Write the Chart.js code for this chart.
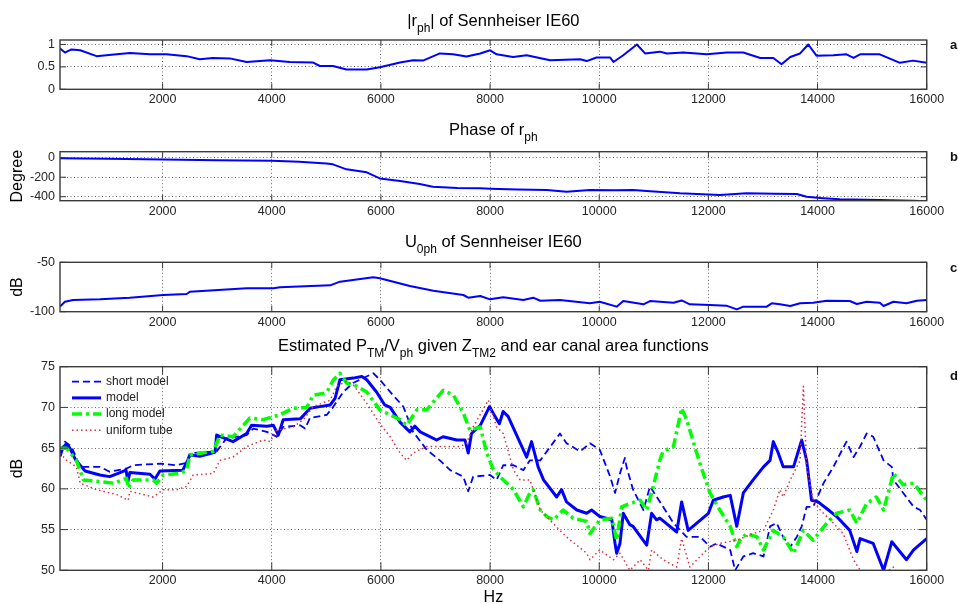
<!DOCTYPE html>
<html><head><meta charset="utf-8">
<script src="https://cdn.jsdelivr.net/npm/chart.js@4.4.1/dist/chart.umd.min.js"></script>
<style>
body{margin:0;background:#fff;width:958px;height:604px;overflow:hidden;position:relative}
canvas{position:absolute;left:0}
</style></head><body>
<canvas id="ca" width="958" height="112" style="top:0px"></canvas>
<canvas id="cb" width="958" height="106" style="top:112px"></canvas>
<canvas id="cc" width="958" height="108" style="top:218px"></canvas>
<canvas id="cd" width="958" height="278" style="top:326px"></canvas>
<script>
// ---------------- DATA ----------------
const xTickValues = [2000,4000,6000,8000,10000,12000,14000,16000];
const yTicksA = [0,0.5,1];
const yTicksB = [-400,-200,0];
const yTicksC = [-100,-50];
const yTicksD = [50,55,60,65,70,75];

// (a) |r_ph|
const freqA = [120,210,330,490,790,970,1400,1770,2070,2440,2680,2920,3230,3540,3970,4330,4750,4880,5120,5370,5740,5980,6350,6590,6770,7080,7320,7570,7820,8000,8120,8420,8670,9100,9650,9770,9950,10200,10260,10440,10690,10840,11110,11240,11540,11970,12340,12640,12950,13190,13340,13500,13680,13830,13980,14290,14530,14660,14780,15140,15510,15750,16000];
const magA = [0.91,0.82,0.89,0.87,0.74,0.76,0.81,0.78,0.78,0.74,0.67,0.70,0.69,0.61,0.65,0.61,0.60,0.52,0.52,0.44,0.44,0.49,0.60,0.65,0.64,0.80,0.78,0.73,0.80,0.87,0.78,0.72,0.76,0.65,0.67,0.63,0.71,0.71,0.61,0.76,1.00,0.80,0.84,0.80,0.82,0.78,0.82,0.82,0.70,0.70,0.56,0.72,0.80,1.00,0.75,0.76,0.78,0.70,0.78,0.78,0.59,0.64,0.59];

// (b) phase of r_ph (degree)
const freqB = [120,1000,2000,3000,4000,4500,5000,5120,5370,5740,5980,6350,6710,6950,7400,7820,8000,8500,9040,9400,9830,10300,10620,10870,11480,12210,12700,13200,13620,13800,14100,14410,15140,15750,16000];
const phaseB = [-6,-10,-17,-25,-31,-42,-58,-68,-119,-150,-212,-239,-270,-297,-310,-314,-318,-325,-331,-348,-331,-333,-331,-341,-365,-382,-365,-370,-372,-400,-415,-427,-434,-441,-446];

// (c) U0ph (dB)
const freqC = [120,210,360,850,1400,2010,2440,2500,3540,4030,4150,5070,5250,5860,5980,6530,6960,7510,7600,7820,8000,8240,8610,8790,8920,9280,9830,10010,10320,10440,10810,10930,11360,11510,11660,12030,12330,12520,12640,13070,13160,13310,13500,13680,13920,14170,14590,14720,14900,15140,15210,15390,15630,15820,16000];
const u0C = [-94.9,-89.9,-88.2,-87.5,-85.8,-83.1,-82.1,-79.8,-76.3,-76.3,-75.3,-73.3,-69.6,-65.2,-66.2,-74,-78.7,-83.1,-85.8,-84.1,-87.5,-85.4,-88.2,-85.8,-88.9,-88.2,-91.5,-89.9,-94.9,-89.2,-92.5,-89.2,-90.9,-88.6,-92.5,-93.2,-93.9,-97.6,-94.9,-94.9,-91.5,-92.5,-94.2,-91.5,-90.9,-88.9,-89.2,-92.2,-89.9,-90.9,-94.2,-89.9,-91.5,-88.9,-88.2];

// (d) estimated P_TM / V_ph (dB)
const seriesNames = ['short model','model','long model','uniform tube'];
const freqShort = [120,210,330,490,850,1030,1340,1460,1950,2260,2440,2530,2990,3170,3540,3660,3910,4090,4210,4520,4610,4700,5010,5130,5310,5490,5860,5980,6170,6410,6590,6840,7080,7270,7510,7600,7690,8000,8120,8240,8430,8610,8730,8920,9280,9400,9650,9830,10010,10200,10290,10380,10470,10500,10620,10810,10930,11170,11360,11600,11850,12030,12150,12400,12490,12640,12820,13010,13130,13250,13370,13500,13620,13710,13800,13920,14110,14290,14530,14660,14780,14900,15020,15210,15360,15390,15570,15760,15880,16000];
const shortModel = [64.5,65.8,65.2,62.7,62.7,62.1,62.5,62.9,63.1,62.9,63.2,64.4,64.6,66.2,66.6,67.4,67.0,66.4,67.6,67.8,67.4,68.7,69.1,70.1,71.9,73.0,74.2,73.4,71.9,70.1,67.0,64.8,63.5,62.3,61.5,59.7,61.5,61.7,61.1,62.9,62.9,62.3,63.5,63.5,66.8,65.6,64.6,65.6,64.8,61.5,59.5,61.9,63.8,62.7,59.9,57.4,60.3,57.8,55.8,54.1,54.1,52.9,53.3,52.5,50.0,51.7,52.1,51.7,55.4,55.8,54.1,52.9,54.1,55.4,57.8,57.8,60.7,62.7,65.8,63.9,65.2,66.8,66.4,63.5,62.7,61.1,59.5,57.8,57.4,56.2];
const freqModel = [120,170,230,300,410,580,850,1030,1220,1330,1365,1400,1770,1860,1950,2370,2460,2500,2680,2960,2990,3290,3540,3630,3910,4030,4120,4210,4520,4580,4700,4880,5070,5160,5250,5490,5650,5740,5920,6070,6170,6350,6530,6620,6720,6840,7020,7140,7390,7540,7600,7660,7820,7990,8090,8170,8240,8330,8670,8760,8850,8880,8980,9220,9310,9400,9590,9770,9860,10010,10230,10290,10320,10380,10440,10560,10620,10870,10960,11050,11110,11420,11510,11630,12000,12090,12270,12400,12520,12640,12820,13010,13130,13190,13280,13370,13560,13710,13800,13890,14010,14200,14350,14590,14720,14780,15020,15210,15360,15630,15760,16000];
const model = [64.0,65.0,65.5,65.0,63.5,62.2,61.7,61.5,62.0,62.3,60.9,62.0,61.8,61.2,62.2,62.3,63.5,64.2,64.0,64.5,66.6,65.8,66.8,67.8,67.7,67.8,66.6,68.5,68.6,69.0,69.9,70.1,70.3,71.1,73.4,73.6,73.8,73.4,71.9,70.3,70.0,68.2,67.0,67.7,67.0,66.6,66.0,66.4,66.0,66.0,64.4,66.8,67.8,70.1,68.9,68.0,69.5,68.9,63.9,65.8,63.5,62.7,61.1,59.0,59.9,58.4,57.4,57.0,57.4,56.6,56.2,53.3,52.1,53.3,57.0,55.6,55.4,53.1,57.0,56.2,56.4,54.7,58.4,54.9,57.0,58.6,59.0,59.2,55.4,59.5,61.1,62.7,63.5,65.8,64.4,62.7,62.7,66.0,63.5,58.6,58.4,57.4,56.6,54.9,52.3,53.9,53.3,50.0,53.5,51.3,52.5,53.9];
const freqLong = [120,240,420,550,850,1100,1340,1370,1460,1830,1890,2010,2320,2440,2500,2930,3050,3290,3600,3840,4150,4390,4640,4760,4940,5010,5130,5250,5370,5560,5740,5980,6350,6470,6660,6840,7140,7330,7510,7630,7820,7940,8050,8180,8430,8610,8730,8790,8920,9040,9160,9340,9520,9770,9830,10010,10230,10320,10410,10560,10750,10870,10990,11110,11170,11360,11510,11600,11850,12030,12210,12400,12520,12580,12700,12890,13010,13190,13370,13560,13740,13920,14170,14350,14590,14720,14900,15080,15210,15390,15570,15760,16000];
const longModel = [65.0,65.0,63.5,61.1,60.9,60.7,61.3,60.1,61.1,61.1,60.7,61.7,61.9,62.3,64.2,64.6,66.6,66.4,68.7,68.5,69.1,69.9,70.0,71.5,71.7,71.9,73.4,74.2,73.0,72.6,71.9,69.7,68.5,67.8,69.7,69.7,72.1,71.5,69.3,67.2,67.6,64.4,62.5,61.5,59.9,57.8,59.5,59.9,57.4,56.6,56.2,57.4,56.4,56.0,54.5,56.2,56.4,53.7,57.8,58.2,58.6,57.4,60.3,63.5,64.6,65.2,69.9,68.5,63.0,59.5,57.4,55.4,52.9,53.7,54.5,54.1,52.5,54.9,54.1,52.1,54.9,53.7,55.8,57.0,57.4,55.8,58.2,59.0,57.4,61.9,60.5,60.7,58.6];
const freqTube = [120,240,420,490,790,1160,1370,1400,1830,2010,2260,2440,2560,2930,3050,3290,3540,3840,3970,4090,4390,4580,4760,5070,5190,5370,5490,5740,5980,6170,6350,6470,6590,6840,7200,7450,7570,7690,7970,8120,8240,8430,8550,8730,8920,9280,9400,9770,9830,10010,10260,10380,10560,10750,10900,10960,11170,11420,11510,11660,11910,12030,12210,12520,12820,13010,13190,13310,13370,13500,13620,13680,13740,13800,13920,14050,14290,14470,14660,14780,15000,15390,15600,16000];
const uniformTube = [64.4,63.5,62.7,60.7,59.9,59.3,58.6,59.7,59.0,59.9,59.9,60.3,61.7,61.9,63.5,63.9,65.2,66.0,65.8,67.2,67.6,68.5,70.1,70.9,72.6,73.2,72.8,70.5,68.0,66.4,64.4,63.5,64.4,65.2,65.2,65.2,65.6,67.6,70.9,67.6,66.8,62.3,61.1,61.1,57.4,54.9,54.1,52.1,51.3,52.5,51.3,52.1,50.0,51.3,50.0,52.5,51.3,50.4,53.9,50.4,52.1,52.9,53.3,53.7,54.5,54.9,57.4,59.9,59.0,61.1,62.7,63.5,72.6,62.7,58.6,57.4,55.8,54.5,51.3,50.0,48.5,50.4,48.0,47.0];

// text
const titleA = [{t:'|r'},{t:'ph',sub:true},{t:'| of Sennheiser IE60'}];
const titleB = [{t:'Phase of r'},{t:'ph',sub:true}];
const titleC = [{t:'U'},{t:'0ph',sub:true},{t:' of Sennheiser IE60'}];
const titleD = [{t:'Estimated P'},{t:'TM',sub:true},{t:'/V'},{t:'ph',sub:true},{t:' given Z'},{t:'TM2',sub:true},{t:' and ear canal area functions'}];

// ---------------- RENDERING ----------------
const FONT = '"Liberation Sans", Arial, Helvetica, sans-serif';
Chart.defaults.font.family = FONT;
Chart.defaults.color = '#262626';
const pts = (xs, ys) => xs.map((x, i) => ({x, y: ys[i]}));

const AREA_L = 60, AREA_R = 926.7, W = 958;

const matlabAxes = {
  id: 'matlabAxes',
  afterDatasetsDraw(chart) {
    const cfg = chart.$cfg;
    const {ctx, chartArea: a} = chart;
    const xs = chart.scales.x, ys = chart.scales.y;
    ctx.save();
    ctx.setLineDash([]);
    ctx.strokeStyle = '#3a3a3a';
    ctx.lineWidth = 1;
    ctx.beginPath();
    xs.ticks.forEach(t => {
      const p = xs.getPixelForValue(t.value);
      ctx.moveTo(p, a.bottom); ctx.lineTo(p, a.bottom - cfg.tick);
      ctx.moveTo(p, a.top); ctx.lineTo(p, a.top + cfg.tick);
    });
    ys.ticks.forEach(t => {
      const p = ys.getPixelForValue(t.value);
      ctx.moveTo(a.left, p); ctx.lineTo(a.left + cfg.tick, p);
      ctx.moveTo(a.right, p); ctx.lineTo(a.right - cfg.tick, p);
    });
    ctx.stroke();
    ctx.lineWidth = 1.4;
    ctx.strokeRect(a.left, a.top, a.right - a.left, a.bottom - a.top);
    ctx.restore();
  },
  afterDraw(chart) {
    const cfg = chart.$cfg;
    const {ctx, chartArea: a} = chart;
    ctx.save();
    ctx.fillStyle = '#000';
    ctx.textBaseline = 'alphabetic';
    // title with subscripts
    const main = '16.5px ' + FONT, sub = '12px ' + FONT;
    let w = 0;
    cfg.title.forEach(s => { ctx.font = s.sub ? sub : main; w += ctx.measureText(s.t).width; });
    let x = (a.left + a.right) / 2 - w / 2;
    const base = cfg.titleBase - cfg.top;
    cfg.title.forEach(s => {
      ctx.font = s.sub ? sub : main;
      ctx.textAlign = 'left';
      ctx.fillText(s.t, x, base + (s.sub ? 6 : 0));
      x += ctx.measureText(s.t).width;
    });
    // panel letter
    ctx.font = 'bold 13px ' + FONT;
    ctx.fillStyle = '#111';
    ctx.fillText(cfg.letter, 950, cfg.letterBase - cfg.top);
    // y label
    if (cfg.ylabel) {
      ctx.save();
      ctx.translate(18, (a.top + a.bottom) / 2);
      ctx.rotate(-Math.PI / 2);
      ctx.textAlign = 'center';
      ctx.textBaseline = 'middle';
      ctx.font = '16px ' + FONT;
      ctx.fillStyle = '#000';
      ctx.fillText(cfg.ylabel, 0, 0);
      ctx.restore();
    }
    // x label
    if (cfg.xlabel) {
      ctx.textAlign = 'center';
      ctx.font = '16px ' + FONT;
      ctx.fillStyle = '#000';
      ctx.fillText(cfg.xlabel, (a.left + a.right) / 2, 602 - cfg.top);
    }
    // legend
    if (cfg.legend) {
      chart.data.datasets.forEach((ds, i) => {
        const y = cfg.legendY - cfg.top + i * 16.2;
        ctx.save();
        ctx.strokeStyle = ds.borderColor;
        ctx.lineWidth = ds.borderWidth;
        ctx.setLineDash(ds.borderDash || []);
        ctx.beginPath(); ctx.moveTo(72, y); ctx.lineTo(101, y); ctx.stroke();
        ctx.restore();
        ctx.font = '12px ' + FONT;
        ctx.fillStyle = '#222';
        ctx.textAlign = 'left';
        ctx.textBaseline = 'middle';
        ctx.fillText(ds.label, 106, y);
      });
    }
    ctx.restore();
  }
};

function makeChart(id, cfg, datasets) {
  const cv = document.getElementById(id);
  const chart = new Chart(cv, {
    type: 'line',
    data: {datasets},
    options: {
      responsive: false, animation: false, devicePixelRatio: 1,
      events: [],
      layout: {padding: {top: cfg.areaTop - cfg.top, left: 0, right: W - AREA_R, bottom: 0}},
      elements: {point: {radius: 0}, line: {tension: 0, borderJoinStyle: 'round'}},
      scales: {
        x: {
          type: 'linear', min: 120, max: 16000,
          afterBuildTicks: s => { s.ticks = xTickValues.map(v => ({value: v})); },
          afterFit: s => { s.height = cfg.top + cfg.h - cfg.areaBottom; },
          grid: {color: '#666', lineWidth: 1, drawTicks: false},
          border: {display: false, dash: [1, 2.5]},
          ticks: {padding: 3, color: '#262626', font: {size: 12.5}, maxRotation: 0, autoSkip: false,
                  callback: v => String(v)}
        },
        y: {
          type: 'linear', min: cfg.yMin, max: cfg.yMax,
          afterBuildTicks: s => { s.ticks = cfg.yTicks.map(v => ({value: v})); },
          afterFit: s => { s.width = AREA_L; },
          grid: {color: '#666', lineWidth: 1, drawTicks: false},
          border: {display: false, dash: [1, 2.5]},
          ticks: {padding: 5, color: '#262626', font: {size: 12.5}, autoSkip: false,
                  callback: v => String(v)}
        }
      },
      plugins: {legend: {display: false}, tooltip: {enabled: false}}
    },
    plugins: [{id: 'cfgInject', beforeInit(c) { c.$cfg = cfg; }}, matlabAxes]
  });
  return chart;
}

const blueLine = (label, xs, ys) => ({label, data: pts(xs, ys), borderColor: '#0000ff', borderWidth: 2, fill: false});

makeChart('ca', {top: 0, h: 112, areaTop: 40, areaBottom: 89.3, yMin: 0, yMax: 1.1, yTicks: yTicksA,
  tick: 6, title: titleA, titleBase: 25.5, letter: 'a', letterBase: 49.3},
  [blueLine('|r_ph|', freqA, magA)]);

makeChart('cb', {top: 112, h: 106, areaTop: 151.7, areaBottom: 200.7, yMin: -441, yMax: 62, yTicks: yTicksB,
  tick: 6, title: titleB, titleBase: 135, letter: 'b', letterBase: 160.7, ylabel: 'Degree'},
  [blueLine('phase', freqB, phaseB)]);

makeChart('cc', {top: 218, h: 108, areaTop: 262.3, areaBottom: 311.7, yMin: -100, yMax: -50, yTicks: yTicksC,
  tick: 6, title: titleC, titleBase: 246.5, letter: 'c', letterBase: 271.7, ylabel: 'dB'},
  [blueLine('U0ph', freqC, u0C)]);

makeChart('cd', {top: 326, h: 278, areaTop: 366.7, areaBottom: 570.3, yMin: 50, yMax: 75, yTicks: yTicksD,
  tick: 8, title: titleD, titleBase: 350.5, letter: 'd', letterBase: 380, ylabel: 'dB', xlabel: 'Hz',
  legend: true, legendY: 381.7},
  [
    {label: seriesNames[0], data: pts(freqShort, shortModel), borderColor: '#0000ff', borderWidth: 1.8, borderDash: [7, 4], order: 4},
    {label: seriesNames[1], data: pts(freqModel, model), borderColor: '#0000ff', borderWidth: 3, order: 3},
    {label: seriesNames[2], data: pts(freqLong, longModel), borderColor: '#00ff00', borderWidth: 3.5, borderDash: [10, 4, 3, 4], order: 2},
    {label: seriesNames[3], data: pts(freqTube, uniformTube), borderColor: '#dc2f45', borderWidth: 1.5, borderDash: [1.5, 3], order: 1}
  ]);
</script>
</body></html>
